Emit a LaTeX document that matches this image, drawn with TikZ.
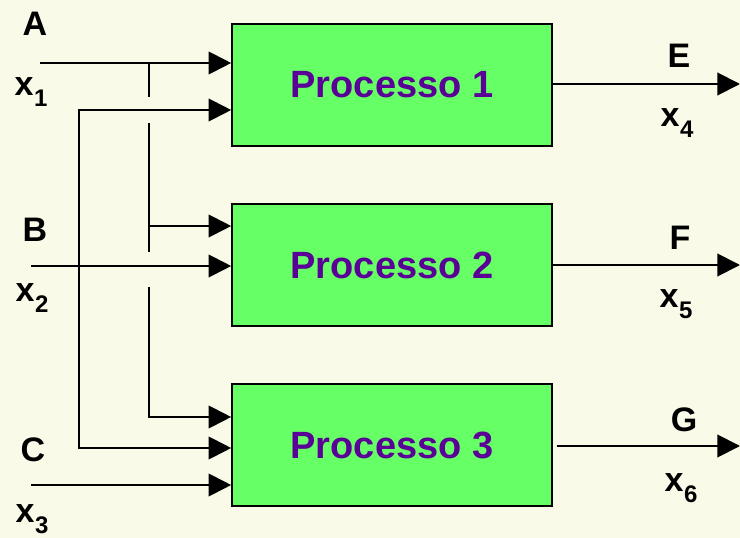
\documentclass[tikz,border=0pt]{standalone}
\usepackage{fontspec}
\setmainfont{Liberation Sans}
\usetikzlibrary{arrows.meta,positioning}
\definecolor{bgcream}{RGB}{250,250,232}
\definecolor{procgreen}{RGB}{102,255,102}
\definecolor{procpurple}{RGB}{90,0,150}
\newcommand{\varx}[1]{x\hspace{0.5pt}\raisebox{-8pt}{\fontsize{18}{20}\selectfont #1}}

\begin{document}
\begin{tikzpicture}[x=0.75pt, y=-0.75pt, ->, >={Triangle[length=17pt,width=17pt]}, line width=1.5pt, node distance=135pt]
\tikzstyle{process}=[draw=black, line width=1.2pt, fill=procgreen, text=procpurple, minimum width=240pt, minimum height=91.5pt, inner sep=0pt, font=\fontsize{28.5}{32}\selectfont\bfseries]
\tikzstyle{lbl}=[inner sep=0pt, font=\fontsize{25.5}{28}\selectfont\bfseries]
\fill[bgcream] (0,0) rectangle (740,538);
\useasboundingbox (0,0) rectangle (740,538);

\node[process] (p1) at (392,85) {Processo 1};
\node[process] (p2)[below of = p1] {Processo 2};
\node[process] (p3)[below of = p2] {Processo 3};

% labels
\node[lbl] (lA) at (35,24) {A};
\node[lbl] (lx1) at (31,92) {\varx{1}};
\node[lbl] (lB) at (35,230) {B};
\node[lbl] (lx2) at (32,298) {\varx{2}};
\node[lbl] (lC) at (33,450) {C};
\node[lbl] (lx3) at (32,519) {\varx{3}};
\node[lbl] (lE) at (679,56) {E};
\node[lbl] (lx4) at (677,123) {\varx{4}};
\node[lbl] (lF) at (680,238) {F};
\node[lbl] (lx5) at (676,304) {\varx{5}};
\node[lbl] (lG) at (684,420) {G};
\node[lbl] (lx6) at (681,488) {\varx{6}};

% input ends
\coordinate (inA) at (40,63);
\coordinate (inB) at (31,266);
\coordinate (inC) at (31,485);
\coordinate (l1) at (79,110);
\coordinate (l3) at (79,448);
\coordinate (m0) at (149,63);
\coordinate (m1) at (149,97);
\coordinate (m1b) at (149,123);
\coordinate (m2) at (149,226);
\coordinate (m2b) at (149,252);
\coordinate (m3a) at (149,287);
\coordinate (m3) at (149,417);
% output ends
\coordinate (outE) at (740,84);
\coordinate (outF) at (740,265);
\coordinate (outG) at (740,446);

\draw (inA) -- (inA -| p1.west);
\draw (inB) -- (inB -| p2.west);
\draw (inC) -- (inC -| p3.west);
\draw[<->] (l1 -| p1.west) -- (l1) -- (l3) -- (l3 -| p3.west);
\draw[-] (m0) -- (m1);
\draw[-] (m1b) -- (m2b);
\draw (m2) -- (m2 -| p2.west);
\draw (m3a) -- (m3) -- (m3 -| p3.west);

\draw (p1.east |- outE) -- (outE);
\draw (p2.east |- outF) -- (outF);
\draw ([xshift=3pt]p3.east |- outG) -- (outG);
\end{tikzpicture}
\end{document}
